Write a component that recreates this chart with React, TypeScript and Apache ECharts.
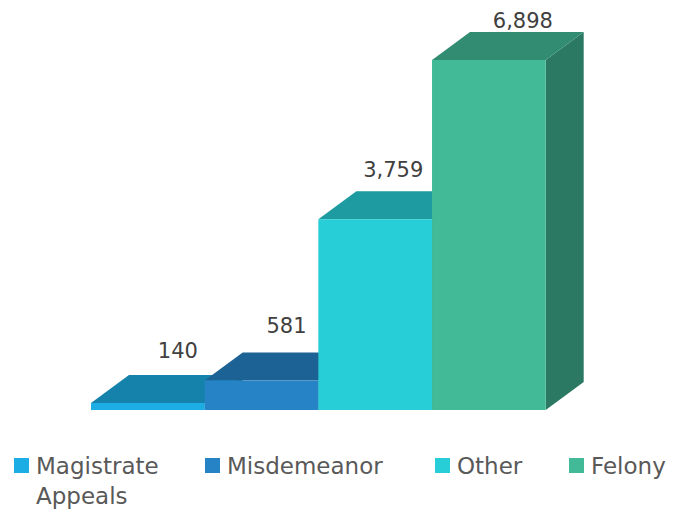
import React, { useEffect, useRef } from "react";
import * as echarts from "echarts";

const categories = ["Magistrate Appeals", "Misdemeanor", "Other", "Felony"];
const values = [140, 581, 3759, 6898];
const valueLabels = ["140", "581", "3,759", "6,898"];
const frontColors = ["#1CADE4", "#2683C6", "#27CED7", "#42BA97"];

// layout constants (pixels)
const DEPTH_X = 38;
const DEPTH_Y = -28;
const labelNudge = [
  [-8, -24],
  [-13, -27],
  [-20, -21],
  [-4, -11],
];
const legendLeft = [14, 205, 435, 569];
const FONT = "'DejaVu Sans', sans-serif";

function shade(hex: string, f: number) {
  const n = parseInt(hex.slice(1), 16);
  const r = Math.round(((n >> 16) & 255) * f);
  const g = Math.round(((n >> 8) & 255) * f);
  const b = Math.round((n & 255) * f);
  return `rgb(${r},${g},${b})`;
}

export default function App() {
  const ref = useRef<HTMLDivElement>(null);
  useEffect(() => {
    const chart = echarts.init(ref.current!, null, { renderer: "svg" });
    const series = categories.map((name, i) => ({
      type: "custom",
      name,
      z: 2 + i,
      itemStyle: { color: frontColors[i] },
      data: [[i, values[i]]],
      renderItem: (params: any, api: any) => {
        const idx = api.value(0);
        const v = api.value(1);
        const top = api.coord([idx, v]);
        const base = api.coord([idx, 0]);
        const bw = api.size([1, 0])[0];
        const x0 = top[0] - bw / 2;
        const x1 = top[0] + bw / 2;
        const yT = top[1];
        const yB = base[1];
        const c = frontColors[i];
        return {
          type: "group",
          children: [
            {
              type: "polygon",
              shape: {
                points: [
                  [x1, yT],
                  [x1 + DEPTH_X, yT + DEPTH_Y],
                  [x1 + DEPTH_X, yB + DEPTH_Y],
                  [x1, yB],
                ],
              },
              style: { fill: shade(c, 0.65) },
            },
            {
              type: "polygon",
              shape: {
                points: [
                  [x0, yT],
                  [x1, yT],
                  [x1 + DEPTH_X, yT + DEPTH_Y],
                  [x0 + DEPTH_X, yT + DEPTH_Y],
                ],
              },
              style: { fill: shade(c, 0.75) },
            },
            {
              type: "rect",
              shape: { x: x0, y: yT, width: bw, height: yB - yT },
              style: { fill: c },
            },
            {
              type: "text",
              z2: 10,
              style: {
                text: valueLabels[i],
                x: top[0] + DEPTH_X + labelNudge[i][0],
                y: yT + DEPTH_Y + labelNudge[i][1],
                align: "center",
                verticalAlign: "middle",
                fontFamily: FONT,
                fontSize: 21,
                fill: "#404040",
              },
            },
          ],
        };
      },
    }));
    const legend = categories.map((name, i) => ({
      data: [name],
      left: legendLeft[i],
      top: i === 0 ? 420.5 : 450.5,
      orient: "horizontal",
      padding: 0,
      itemWidth: 15,
      itemHeight: 15,
      icon: "rect",
      selectedMode: false,
      formatter: (n: string) => (n === "Magistrate Appeals" ? " \nMagistrate\nAppeals" : n),
      textStyle: {
        fontFamily: FONT,
        fontSize: 23,
        color: "#595959",
        lineHeight: 30,
        padding: [0, 0, 0, 2],
      },
    }));
    chart.setOption({
      animation: false,
      grid: { left: 91, right: 145.3, bottom: 105, top: 410 - (7000 * 350) / 6898 },
      xAxis: { type: "category", data: categories, show: false, boundaryGap: true },
      yAxis: { type: "value", min: 0, max: 7000, show: false, splitLine: { show: false } },
      legend,
      series,
    });
    return () => chart.dispose();
  }, []);
  return (
    <div
      ref={ref}
      style={{ position: "fixed", left: 0, top: 0, width: 691, height: 515, background: "#fff" }}
    />
  );
}
